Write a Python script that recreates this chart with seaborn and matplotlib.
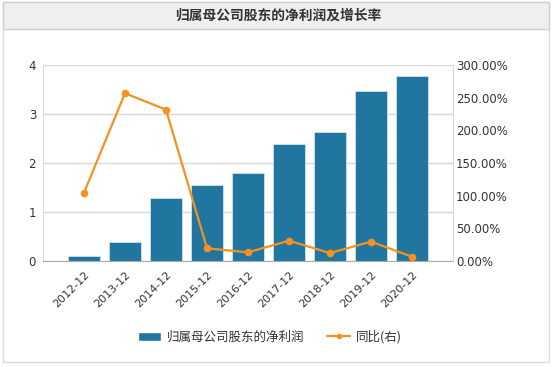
import numpy as np
import seaborn as sns
import matplotlib.pyplot as plt
from matplotlib.patches import Rectangle
from matplotlib.lines import Line2D
from matplotlib.ticker import FuncFormatter

sns.set_style("white")
plt.rcParams['font.family'] = ['Noto Sans CJK SC', 'DejaVu Sans']

# data
periods = ['2012-12', '2013-12', '2014-12', '2015-12', '2016-12',
           '2017-12', '2018-12', '2019-12', '2020-12']
net_profit = [0.10, 0.38, 1.29, 1.56, 1.79, 2.39, 2.63, 3.46, 3.77]
yoy_pct = [104.6, 256.7, 231.7, 19.4, 13.3, 31.0, 12.2, 29.6, 6.6]

title = '归属母公司股东的净利润及增长率'
bar_label = '归属母公司股东的净利润'
line_label = '同比(右)'

bar_color = '#21769f'
line_color = '#f39121'
text_color = '#333333'
grid_color = '#d8d8d8'

W, H = 556, 367
fig = plt.figure(figsize=(W / 100, H / 100), dpi=100)

# outer frame and title band
fig.patches.append(Rectangle((3 / W, 1 - 362 / H), 546 / W, 360 / H,
                             transform=fig.transFigure, fill=False,
                             edgecolor='#dcdcdc', linewidth=1))
fig.patches.append(Rectangle((3 / W, 1 - 29 / H), 546 / W, 27 / H,
                             transform=fig.transFigure, facecolor='#efefef',
                             edgecolor='#d0d0d0', linewidth=1))
fig.text(278 / W, 1 - 16 / H, title, ha='center', va='center',
         fontsize=9.9, fontweight='bold', color=text_color)

ax = fig.add_axes([43 / W, 1 - 261 / H, 410 / W, 196 / H])
sns.barplot(x=periods, y=net_profit, color=bar_color, saturation=1,
            width=0.8, edgecolor='#cfe3ee', linewidth=0.6, ax=ax)
ax.set_xlim(-1, 9)
ax.set_ylim(0, 4)
ax.set_yticks([0, 1, 2, 3, 4])
ax.grid(axis='y', color=grid_color, linewidth=1)
ax.set_axisbelow(True)
for s in ['top', 'right']:
    ax.spines[s].set_visible(False)
ax.spines['left'].set_color(grid_color)
ax.spines['bottom'].set_color('#aaaaaa')
ax.tick_params(axis='y', labelsize=8.5, colors=text_color, length=0, pad=5)
ax.tick_params(axis='x', labelsize=8, colors=text_color, length=4,
               color='#aaaaaa', direction='out', pad=2)
ax.set_xticks(range(len(periods)))
ax.set_xticklabels(periods, rotation=45, ha='right', rotation_mode='anchor')
for lbl in ax.get_xticklabels() + ax.get_yticklabels():
    lbl.set_family('DejaVu Sans')
ax.set_xlabel('')
ax.set_ylabel('')

ax2 = ax.twinx()
sns.lineplot(x=np.arange(len(periods)), y=yoy_pct, color=line_color,
             linewidth=1.6, marker='o', markersize=5.5,
             markeredgewidth=0, ax=ax2)
ax2.set_ylim(0, 300)
ax2.set_yticks([0, 50, 100, 150, 200, 250, 300])
ax2.yaxis.set_major_formatter(FuncFormatter(lambda v, p: f'{v:.2f}%'))
ax2.set_xlim(-1, 9)
for s in ['top', 'left', 'bottom']:
    ax2.spines[s].set_visible(False)
ax2.spines['right'].set_color(grid_color)
ax2.tick_params(axis='y', labelsize=8.5, colors=text_color, length=0, pad=2)
for lbl in ax2.get_yticklabels():
    lbl.set_family('DejaVu Sans')

handles = [Rectangle((0, 0), 1, 1, facecolor=bar_color),
           Line2D([0], [0], color=line_color, linewidth=1.6, marker='o',
                  markersize=3)]
fig.legend(handles, [bar_label, line_label], loc='center',
           bbox_to_anchor=(270 / W, 1 - 337 / H), ncol=2, frameon=False,
           fontsize=9, handlelength=1.85, handleheight=0.8,
           handletextpad=0.45, columnspacing=1.8, labelcolor=text_color)

fig.savefig('out.png', dpi=100)
